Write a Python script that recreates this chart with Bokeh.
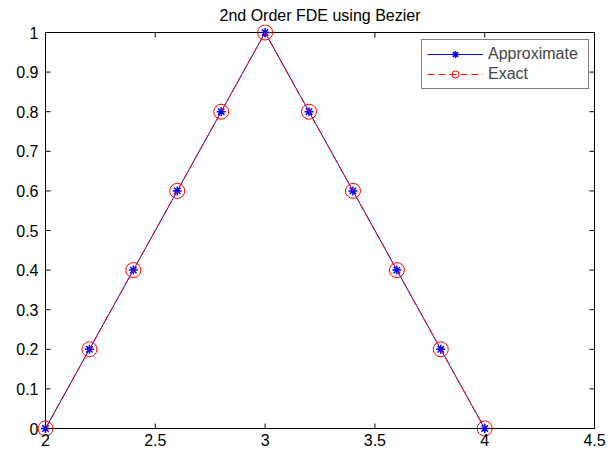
from bokeh.plotting import figure
from bokeh.models import Range1d, FixedTicker, Legend, LegendItem
from bokeh.embed import file_html
from bokeh.resources import INLINE

x_vals = [2.0, 2.2, 2.4, 2.6, 2.8, 3.0, 3.2, 3.4, 3.6, 3.8, 4.0]
approximate = [0.0, 0.2, 0.4, 0.6, 0.8, 1.0, 0.8, 0.6, 0.4, 0.2, 0.0]
exact = [0.0, 0.2, 0.4, 0.6, 0.8, 1.0, 0.8, 0.6, 0.4, 0.2, 0.0]
x_ticks = [2, 2.5, 3, 3.5, 4, 4.5]
y_ticks = [0, 0.1, 0.2, 0.3, 0.4, 0.5, 0.6, 0.7, 0.8, 0.9, 1.0]
title_text = "2nd Order FDE using Bezier"

FONT = "Liberation Sans"
FS = "16px"

# axes box (data limits) and layout in pixels
x_lo, x_hi = x_ticks[0], x_ticks[-1]
y_lo, y_hi = y_ticks[0], y_ticks[-1]
BOX_W, BOX_H = 549.0, 396.0      # pixel size of the axes box
PAD = 8.0                        # room around the box so edge markers are not clipped
TICK = 5.0                       # inward tick length, px
ux = (x_hi - x_lo) / BOX_W       # data units per pixel
uy = (y_hi - y_lo) / BOX_H

p = figure(width=611, height=452, output_backend="svg", toolbar_location=None,
           x_range=Range1d(x_lo - PAD * ux, x_hi + PAD * ux),
           y_range=Range1d(y_lo - PAD * uy, y_hi + PAD * uy),
           min_border_left=37, min_border_right=9, min_border_top=24, min_border_bottom=16,
           title=title_text)
p.title.align = "center"
p.title.text_font = FONT
p.title.text_font_size = FS
p.title.text_font_style = "normal"
p.title.text_color = "black"
p.title.offset = -4
p.title.standoff = 2
p.xgrid.visible = False
p.ygrid.visible = False
p.outline_line_color = None
p.background_fill_color = "white"
p.border_fill_color = "white"

for ax in (p.xaxis[0], p.yaxis[0]):
    ax.major_tick_in = 0
    ax.major_tick_out = 0
    ax.minor_tick_in = 0
    ax.minor_tick_out = 0
    ax.axis_line_color = None
    ax.major_label_text_font = FONT
    ax.major_label_text_font_size = FS
    ax.major_label_text_color = "black"
p.xaxis[0].major_label_standoff = -3
p.yaxis[0].major_label_standoff = -1
p.xaxis[0].ticker = FixedTicker(ticks=x_ticks)
p.yaxis[0].ticker = FixedTicker(ticks=y_ticks)
p.yaxis[0].major_label_overrides = {1.0: "1", 0: "0"}
p.xaxis[0].major_label_overrides = {2: "2", 3: "3", 4: "4"}

# axes box
p.quad(left=[x_lo], right=[x_hi], bottom=[y_lo], top=[y_hi],
       fill_color=None, line_color="black", line_width=1)
# inward ticks on all four sides
n_x, n_y = len(x_ticks), len(y_ticks)
p.segment(x0=x_ticks, y0=[y_lo] * n_x, x1=x_ticks, y1=[y_lo + TICK * uy] * n_x,
          line_color="black", line_width=1)
p.segment(x0=x_ticks, y0=[y_hi] * n_x, x1=x_ticks, y1=[y_hi - TICK * uy] * n_x,
          line_color="black", line_width=1)
p.segment(x0=[x_lo] * n_y, y0=y_ticks, x1=[x_lo + TICK * ux] * n_y, y1=y_ticks,
          line_color="black", line_width=1)
p.segment(x0=[x_hi] * n_y, y0=y_ticks, x1=[x_hi - TICK * ux] * n_y, y1=y_ticks,
          line_color="black", line_width=1)

l1 = p.line(x_vals, approximate, line_color="blue", line_width=1)
m1 = p.scatter(x_vals, approximate, marker="asterisk", size=9, line_color="blue", line_width=1.5)
l2 = p.line(x_vals, exact, line_color="red", line_width=1, line_dash="7 4")
m2 = p.scatter(x_vals, exact, marker="circle", size=15, line_color="red", fill_color=None, line_width=1)

legend = Legend(items=[LegendItem(label="Approximate", renderers=[l1, m1]),
                       LegendItem(label="Exact", renderers=[l2, m2])],
                location=(384, 347), glyph_width=56, glyph_height=18,
                label_text_font=FONT, label_text_font_size=FS, label_width=95,
                border_line_color="black", border_line_width=1,
                padding=5, spacing=2, margin=0, label_standoff=5,
                background_fill_alpha=1)
p.add_layout(legend, "center")

open("out.html", "w").write(file_html(p, INLINE))
